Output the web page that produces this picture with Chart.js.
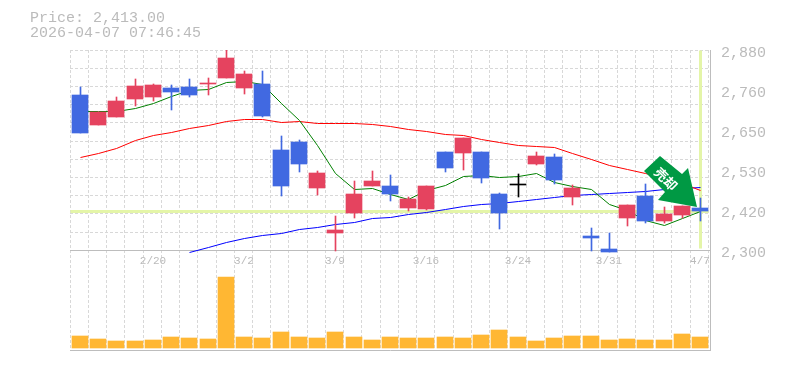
<!DOCTYPE html>
<html>
<head>
<meta charset="utf-8">
<script src="https://cdn.jsdelivr.net/npm/chart.js@4"></script>
<style>
  body { margin: 0; background: #fff; }
  #wrap { position: relative; width: 785px; height: 370px; }
  #head { position: absolute; left: 30px; top: 11px; font: 15px/15px "Liberation Mono", monospace; color: #bbb; white-space: pre; }
  canvas { position: absolute; left: 0; top: 0; }
</style>
</head>
<body>
<div id="wrap">
  <canvas id="c" width="785" height="370"></canvas>
  <div id="head">Price: 2,413.00
2026-04-07 07:46:45</div>
</div>
<script>
const opens = [2750,2662,2686,2738,2744,2770,2773,2781,2799,2770,2781,2590,2613,2480,2349,2407,2486,2486,2422,2419,2584,2581,2584,2462,2489,2549,2570,2454,2341,2303,2393,2457,2384,2402,2421]
const highs = [2774,2700,2744,2796,2781,2778,2796,2799,2880,2819,2819,2631,2619,2529,2399,2500,2529,2518,2454,2486,2584,2625,2584,2465,2520,2584,2578,2488,2364,2349,2430,2491,2425,2428,2451]
const lows = [2640,2662,2686,2718,2732,2706,2744,2750,2799,2752,2686,2457,2526,2460,2298,2393,2486,2442,2413,2416,2526,2532,2494,2361,2454,2546,2491,2430,2297,2294,2370,2378,2378,2393,2384]
const closes = [2640,2700,2732,2776,2778,2758,2750,2784,2857,2810,2689,2486,2549,2523,2358,2462,2500,2462,2448,2486,2538,2625,2509,2407,2491,2573,2503,2480,2335,2294,2430,2384,2404,2428,2413]
const maShort = [2704,2704,2704,2713,2726,2747,2764,2768,2787,2790,2781,2727,2677,2604,2523,2477,2480,2462,2448,2474,2488,2515,2517,2513,2515,2523,2498,2486,2478,2433,2416,2387,2372,2393,2413]
const maMid = [2571,2582,2595,2619,2633,2642,2653,2662,2674,2679,2679,2672,2674,2669,2668,2667,2665,2660,2651,2645,2636,2633,2622,2613,2604,2602,2599,2581,2564,2546,2535,2522,2512,2494,2474]
const maLong = [null,null,null,null,null,null,2293,2310,2324,2335,2344,2350,2361,2368,2375,2382,2393,2397,2404,2409,2419,2428,2433,2435,2443,2448,2453,2459,2462,2464,2469,2472,2476,2479,2482]
const volumes = [12,9,7,7,8,11,10,9,71,11,10,16,11,10,16,11,8,11,10,10,11,10,13,18,11,7,10,12,12,8,9,8,8,14,11]
const dateIndexes = [4,9,14,19,24,29,34]
const dateLabels = ["2/20","3/2","3/9","3/16","3/24","3/31","4/7"]
const priceTicks = [2880,2764,2648,2532,2416,2300]
const priceLabels = ["2,880","2,760","2,650","2,530","2,420","2,300"]
const gridPrices = [2880,2827,2774,2721,2669,2616,2563,2511,2458,2405,2352]
const lastPrice = 2413

const upColor = "#e5435f"
const downColor = "#4169e1"
const gridColor = "#d8d8d8"
const axisColor = "#bdbdbd"
const bandColor = "#e4f5a8"
const xMin = -0.548
const xMax = 34.548
const priceMin = 2010
const priceMax = 2880

// the reference has hard pixel edges, so keep the scales on whole pixels
const snap = (shift) => (s) => {
  const proto = Object.getPrototypeOf(s)
  s.getPixelForValue = (v) => Math.round(proto.getPixelForValue.call(s, v)) + shift
}

// open and close within 2 counts as flat, those candles are black
const candleColor = opens.map((o, i) => (Math.abs(closes[i] - o) <= 2 ? "#000" : closes[i] > o ? upColor : downColor))
const asLine = (arr) => arr.map((y, i) => ({ x: i, y }))
const line = (data, color, order, width = 1) => ({
  type: "line", data, borderColor: color, borderWidth: width, pointRadius: 0, order, xAxisID: "xMid", yAxisID: "yMid",
})

// sell marker, drawn relative to the last candle
const sellArrow = {
  id: "sellArrow",
  afterDatasetsDraw(chart) {
    const { ctx, scales } = chart
    const ax = scales.x.getPixelForValue(34)
    const ay = scales.y.getPixelForValue(lastPrice)
    const shape = [[-40,-55],[-18,-37],[-12,-43],[-3,-4],[-42,-11],[-35,-19],[-56,-40]]
    ctx.save()
    ctx.fillStyle = "#009944"
    ctx.beginPath()
    shape.forEach(([dx, dy], i) => (i ? ctx.lineTo(ax + dx, ay + dy) : ctx.moveTo(ax + dx, ay + dy)))
    ctx.closePath()
    ctx.fill()
    ctx.translate(ax - 34, ay - 32)
    ctx.rotate(Math.PI / 4)
    ctx.fillStyle = "#fff"
    ctx.font = 'bold 13px "Noto Sans CJK JP"'
    ctx.textAlign = "center"
    ctx.textBaseline = "middle"
    ctx.fillText("売却", 0, 0)
    ctx.restore()
  },
}

new Chart(document.getElementById("c"), {
  data: {
    datasets: [
      line([{ x: xMin, y: lastPrice }, { x: 34.45, y: lastPrice }], bandColor, 10, 3),
      line([{ x: 34, y: priceMax }, { x: 34, y: 2306 }], bandColor, 9, 3),
      line(asLine(maLong), "#0000ff", 8),
      line(asLine(maMid), "#ff0000", 7),
      line(asLine(maShort), "#008000", 6),
      {
        type: "bar", data: volumes.map((y, i) => ({ x: i, y: y * 1000 })), backgroundColor: "#ffb733",
        barThickness: 16, grouped: false, order: 5, xAxisID: "x", yAxisID: "yVol",
      },
      {
        type: "bar", data: lows.map((l, i) => ({ x: i, y: [l, highs[i]] })), backgroundColor: candleColor,
        barThickness: 1, grouped: false, order: 4, xAxisID: "xMid", yAxisID: "y",
      },
      {
        type: "bar", data: opens.map((o, i) => ({ x: i, y: [o, closes[i]] })), backgroundColor: candleColor,
        barThickness: 16, minBarLength: 1, grouped: false, order: 3, xAxisID: "x", yAxisID: "y",
      },
    ],
  },
  options: {
    responsive: false,
    animation: false,
    layout: { padding: { left: 70, top: 50, bottom: 20 } },
    plugins: { legend: { display: false }, tooltip: { enabled: false } },
    scales: {
      x: {
        type: "linear", min: xMin, max: xMax, position: { y: 2300 }, offset: false,
        grid: { display: false, drawTicks: false, offset: false },
        border: { color: axisColor, width: 1 },
        afterDataLimits: snap(0),
        afterBuildTicks: (s) => { s.ticks = dateIndexes.map((value) => ({ value })) },
        ticks: {
          callback: (v, i) => dateLabels[i], autoSkip: false, maxRotation: 0, padding: 4,
          color: "#bbb", font: { family: "Liberation Mono", size: 11 },
        },
      },
      xMid: { type: "linear", display: false, min: xMin, max: xMax, offset: false, afterDataLimits: snap(0.5) },
      xGrid: {
        type: "linear", min: xMin, max: xMax, position: "bottom", offset: false,
        grid: { color: gridColor, drawTicks: false, offset: false },
        border: { color: axisColor, width: 1, dash: [3, 2] },
        afterBuildTicks: (s) => { s.ticks = opens.map((o, i) => ({ value: i - 0.54 })).concat({ value: 34.45 }) },
        ticks: { display: false },
        afterFit: (s) => { s.height = 0 },
      },
      y: {
        type: "linear", min: priceMin, max: priceMax, position: "right",
        grid: { display: false, drawTicks: false },
        border: { color: axisColor, width: 1 },
        afterDataLimits: snap(0),
        afterBuildTicks: (s) => { s.ticks = priceTicks.map((value) => ({ value })) },
        ticks: {
          callback: (v, i) => priceLabels[i], autoSkip: false, padding: 11, labelOffset: 3,
          color: "#bbb", font: { family: "Liberation Mono", size: 15 },
        },
        afterFit: (s) => { s.width = 75 },
      },
      yMid: { type: "linear", display: false, min: priceMin, max: priceMax, afterDataLimits: snap(0.5) },
      yGrid: {
        type: "linear", min: priceMin, max: priceMax, position: "left",
        grid: { color: gridColor, drawTicks: false },
        border: { display: false, dash: [3, 2] },
        afterBuildTicks: (s) => { s.ticks = gridPrices.map((value) => ({ value })) },
        ticks: { display: false },
        afterFit: (s) => { s.width = 0 },
      },
      yVol: { type: "linear", display: false, min: -2000, max: 298000, afterDataLimits: snap(0) },
    },
  },
  plugins: [sellArrow],
})
</script>
</body>
</html>
